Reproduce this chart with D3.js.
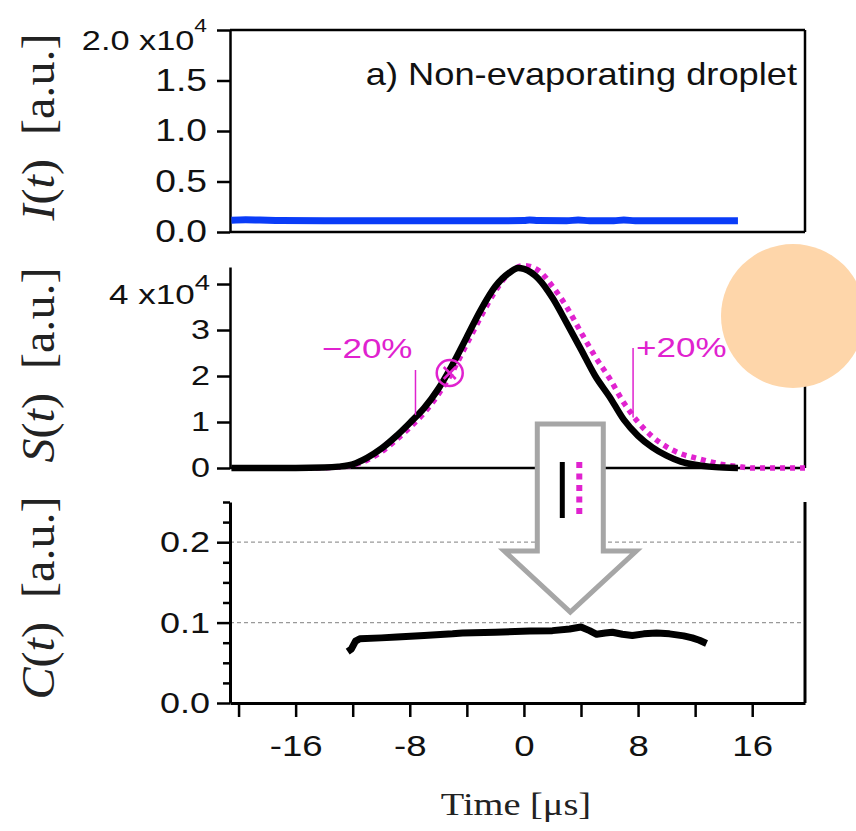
<!DOCTYPE html>
<html>
<head>
<meta charset="utf-8">
<script src="https://cdn.jsdelivr.net/npm/d3@7"></script>
<style>
body { margin: 0; background: #fff; }
svg { display: block; }
</style>
</head>
<body>
<script>
var w = 856;
var h = 831;

// I(t) [x1e4]
var iTime  = [-20.5, -19.5, -18.5, -17, -14, -10, -6, -2, 0, 0.4, 1, 3, 3.8, 4.6, 6.3, 7, 7.8, 10, 13, 15];
var iValue = [0.116, 0.121, 0.118, 0.113, 0.112, 0.112, 0.112, 0.112, 0.113, 0.119, 0.113, 0.112, 0.118, 0.112, 0.112, 0.118, 0.112, 0.112, 0.112, 0.112];

// S(t) [x1e4], measured (black) and -/+20% case (magenta dotted)
var sTime  = [-20.5, -16, -14, -13, -12, -11, -10, -9, -8, -7, -6, -5, -4, -3, -2, -1, -0.4, 0, 1, 2, 3, 4, 5, 6, 7, 8, 9, 10, 11, 12, 13, 14, 15];
var sValue = [0, 0, 0.01, 0.03, 0.08, 0.22, 0.42, 0.68, 0.98, 1.3, 1.72, 2.25, 2.85, 3.45, 3.95, 4.25, 4.35, 4.33, 4.12, 3.7, 3.15, 2.58, 2.0, 1.55, 1.05, 0.7, 0.45, 0.27, 0.14, 0.07, 0.03, 0.01, 0];
var mTime  = [-16, -14, -13, -12, -11, -10, -9, -8, -7, -6, -5, -4, -3, -2, -1, 0, 1, 2, 3, 4, 5, 6, 7, 8, 9, 10, 11, 12, 13, 14, 15, 16, 19.7];
var mValue = [0, 0.005, 0.02, 0.06, 0.17, 0.35, 0.6, 0.88, 1.2, 1.6, 2.1, 2.7, 3.3, 3.85, 4.25, 4.4, 4.3, 3.95, 3.5, 2.95, 2.42, 1.95, 1.42, 1.0, 0.68, 0.46, 0.31, 0.22, 0.14, 0.07, 0.03, 0, 0];

// C(t)
var cTime  = [-12.35, -12.1, -11.8, -11.5, -10, -8.9, -7, -5, -4.3, -2, 0.4, 2, 3.2, 3.7, 4.0, 4.6, 5.1, 5.7, 6.2, 6.9, 7.6, 8.4, 9.3, 10.2, 11.2, 11.8, 12.3, 12.8];
var cValue = [0.064, 0.067, 0.077, 0.080, 0.081, 0.082, 0.084, 0.086, 0.087, 0.088, 0.0895, 0.090, 0.092, 0.0935, 0.0945, 0.090, 0.0855, 0.087, 0.088, 0.0855, 0.084, 0.086, 0.087, 0.086, 0.0835, 0.081, 0.078, 0.074];

var xTicks = [-20, -16, -12, -8, -4, 0, 4, 8, 12, 16];
var iTicks = [0, 0.5, 1.0, 1.5, 2.0];
var sTicks = [0, 1, 2, 3, 4];
var cTicks = [0, 0.1, 0.2];
var cMinor = [0.025, 0.05, 0.075, 0.125, 0.15, 0.175, 0.225, 0.25];
var cGrid  = [0.1, 0.2];

var markTime  = [-7.6, 7.65];
var markFrom  = [1.15, 1.1];
var markText  = ["\u221220%", "+20%"];

var magenta = "#e022cf";
var sans = "Liberation Sans, Arial, sans-serif";
var serif = "Liberation Serif, Times New Roman, serif";

var svg = d3.select("body")
            .append("svg")
            .attr("width", w)
            .attr("height", h);

var x  = d3.scaleLinear().domain([-20.6, 19.7]).range([230, 805]);
var yI = d3.scaleLinear().domain([0, 2]).range([232, 30]);
var yS = d3.scaleLinear().domain([0, 4.37]).range([468, 267]);
var yC = d3.scaleLinear().domain([0, 0.25]).range([703, 502]);

// stretched text, the figure is a bit wider than tall
function stretchTicks(g, size, sx) {
  g.selectAll(".tick text").each(function() {
    var t = d3.select(this);
    var x0 = +t.attr("x") || 0;
    t.attr("x", x0 / sx)
     .attr("transform", "scale(" + sx + ",1)")
     .attr("font-family", sans)
     .attr("font-size", size + "px")
     .attr("fill", "#111");
  });
}

function label(x0, y0, str, size, sx, anchor, color, family) {
  return svg.append("g")
    .attr("transform", "translate(" + x0 + "," + y0 + ") scale(" + sx + ",1)")
    .append("text")
    .attr("text-anchor", anchor)
    .attr("font-family", family || sans)
    .attr("font-size", size + "px")
    .attr("fill", color || "#111")
    .text(str);
}

function ylabel(cy, letter) {
  var t = svg.append("g")
    .attr("transform", "translate(54," + cy + ") rotate(-90) scale(1.3,1.25)")
    .append("text")
    .attr("text-anchor", "middle")
    .attr("font-family", serif)
    .attr("font-size", "37px")
    .attr("fill", "#222");
  t.append("tspan").attr("font-style", "italic").text(letter);
  t.append("tspan").text("(");
  t.append("tspan").attr("font-style", "italic").text("t");
  t.append("tspan").text(")\u00a0\u00a0[a.u.]");
}

function line(x1, y1, x2, y2, width, color) {
  svg.append("line")
    .attr("x1", x1).attr("y1", y1).attr("x2", x2).attr("y2", y2)
    .attr("stroke", color || "#000")
    .attr("stroke-width", width);
}

// ---------- top panel ----------
var gI = svg.append("g")
  .attr("transform", "translate(230,0)")
  .call(d3.axisLeft(yI).tickValues(iTicks).tickSize(13).tickSizeOuter(0).tickPadding(10)
        .tickFormat(d3.format(".1f")));
gI.select(".domain").attr("stroke-width", 2.5);
gI.selectAll(".tick line").attr("stroke-width", 2.5);
stretchTicks(gI, 31, 1.2);
gI.selectAll(".tick text").filter(function(d) { return d === 2; })
  .text("2.0 x10")
  .attr("y", 11)
  .attr("font-size", "27px")
  .attr("transform", "scale(1.27,1)")
  .attr("x", -23 / 1.27)
  .append("tspan").attr("dy", "-18").attr("font-size", "18px").text("4");

line(230, 30, 805, 30, 2.5);
line(805, 30, 805, 232, 2.5);
line(230, 232, 805, 232, 2.5);

svg.append("path")
  .datum(d3.range(iTime.length))
  .attr("fill", "none")
  .attr("stroke", "#0a3cf8")
  .attr("stroke-width", 7)
  .attr("d", d3.line()
    .x(function(i) { return x(iTime[i]); })
    .y(function(i) { return yI(iValue[i]); })
    .curve(d3.curveMonotoneX));

label(797, 85, "a) Non-evaporating droplet", 31, 1.17, "end");
ylabel(127, "I");

// ---------- middle panel ----------
var gS = svg.append("g")
  .attr("transform", "translate(230,0)")
  .call(d3.axisLeft(yS).tickValues(sTicks).tickSize(13).tickSizeOuter(0).tickPadding(7)
        .tickFormat(d3.format("d")));
gS.select(".domain").attr("stroke-width", 2.5);
gS.selectAll(".tick line").attr("stroke-width", 2.5);
stretchTicks(gS, 28, 1.22);
gS.selectAll(".tick text").filter(function(d) { return d === 4; })
  .text("4 x10")
  .attr("y", 11)
  .attr("font-size", "28px")
  .attr("transform", "scale(1.25,1)")
  .attr("x", -20 / 1.25)
  .append("tspan").attr("dy", "-14").attr("font-size", "22px").text("4");

line(230, 468, 805, 468, 2.5);
line(805, 267, 805, 468, 2.5);

var sLine = d3.line()
  .x(function(d) { return x(d[0]); })
  .y(function(d) { return yS(d[1]); })
  .curve(d3.curveMonotoneX);

svg.append("path")
  .datum(d3.zip(mTime, mValue))
  .attr("fill", "none")
  .attr("stroke", magenta)
  .attr("stroke-width", 5.5)
  .attr("stroke-dasharray", "5,5")
  .attr("d", sLine);

svg.append("path")
  .datum(d3.zip(sTime, sValue))
  .attr("fill", "none")
  .attr("stroke", "#000")
  .attr("stroke-width", 6.5)
  .attr("stroke-linejoin", "round")
  .attr("d", sLine);

// -20% / +20% markers
line(x(markTime[0]), yS(markFrom[0]), x(markTime[0]), 370, 1.5, magenta);
line(x(markTime[1]), yS(markFrom[1]), x(markTime[1]), 348, 1.5, magenta);
label(x(markTime[0]) - 3, 358, markText[0], 28, 1.25, "end", magenta);
label(x(markTime[1]) + 3, 357, markText[1], 28, 1.25, "start", magenta);

// circled cross on rising edge
var ox = x(-5.2), oy = 373;
svg.append("circle")
  .attr("cx", ox).attr("cy", oy).attr("r", 13)
  .attr("fill", "none").attr("stroke", magenta).attr("stroke-width", 2.5);
line(ox - 6, oy - 6, ox + 6, oy + 6, 2.5, magenta);
line(ox - 6, oy + 6, ox + 6, oy - 6, 2.5, magenta);

ylabel(365, "S");

// ---------- bottom panel ----------
svg.selectAll(".grid")
  .data(cGrid)
  .enter()
  .append("line")
  .attr("x1", 230).attr("x2", 805)
  .attr("y1", function(d) { return yC(d); })
  .attr("y2", function(d) { return yC(d); })
  .attr("stroke", "#999")
  .attr("stroke-width", 1.2)
  .attr("stroke-dasharray", "4,3");

var gC = svg.append("g")
  .attr("transform", "translate(230,0)")
  .call(d3.axisLeft(yC).tickValues(cTicks).tickSize(13).tickSizeOuter(0).tickPadding(7)
        .tickFormat(d3.format(".1f")));
gC.select(".domain").attr("stroke-width", 3);
gC.selectAll(".tick line").attr("stroke-width", 2.5);
stretchTicks(gC, 30, 1.2);

var gCm = svg.append("g")
  .attr("transform", "translate(230,0)")
  .call(d3.axisLeft(yC).tickValues(cMinor).tickSize(7).tickSizeOuter(0).tickFormat(""));
gCm.select(".domain").remove();
gCm.selectAll(".tick line").attr("stroke-width", 2.5);

var gX = svg.append("g")
  .attr("transform", "translate(0,703)")
  .call(d3.axisBottom(x).tickValues(xTicks).tickSize(14).tickSizeOuter(0).tickPadding(18)
        .tickFormat(function(d) { return d % 8 === 0 ? String(d) : ""; }));
gX.select(".domain").attr("stroke-width", 3);
gX.selectAll(".tick line").attr("stroke-width", 2.5);
stretchTicks(gX, 30, 1.22);

line(805, 502, 805, 703, 3);

svg.append("path")
  .datum(d3.zip(cTime, cValue))
  .attr("fill", "none")
  .attr("stroke", "#000")
  .attr("stroke-width", 7)
  .attr("stroke-linejoin", "round")
  .attr("d", d3.line()
    .x(function(d) { return x(d[0]); })
    .y(function(d) { return yC(d[1]); }));

ylabel(598, "C");

label(516, 815, "Time [\u03bcs]", 32, 1.2, "middle", "#222", serif);

// ---------- hollow arrow with legend ----------
var ax = x(3.25);
svg.append("path")
  .attr("d", "M" + (ax - 33) + ",424 L" + (ax + 33) + ",424 L" + (ax + 33) + ",551 L" + (ax + 66) + ",551 L" +
             ax + ",612 L" + (ax - 66) + ",551 L" + (ax - 33) + ",551 Z")
  .attr("fill", "#fff")
  .attr("stroke", "#a6a6a6")
  .attr("stroke-width", 5)
  .attr("stroke-linejoin", "miter");
line(ax - 8, 462, ax - 8, 518, 5, "#000");
svg.append("line")
  .attr("x1", ax + 9).attr("x2", ax + 9)
  .attr("y1", 462).attr("y2", 518)
  .attr("stroke", magenta)
  .attr("stroke-width", 6)
  .attr("stroke-dasharray", "6,5.5");

// peach dot
svg.append("circle")
  .attr("cx", 793).attr("cy", 316).attr("r", 72)
  .attr("fill", "#fed6aa");
</script>
</body>
</html>
